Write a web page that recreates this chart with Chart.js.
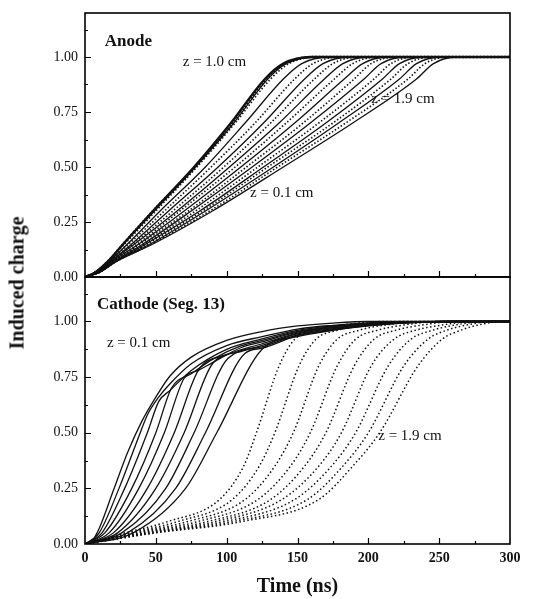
<!DOCTYPE html>
<html>
<head>
<meta charset="utf-8">
<script src="https://cdn.jsdelivr.net/npm/chart.js@4"></script>
<style>
  body { margin: 0; background: #fff; width: 540px; height: 599px; position: relative; overflow: hidden; }
  #anode { position: absolute; left: 0; top: -10px; }
  #cathode { position: absolute; left: 0; top: 261px; }
  #ytitle {
    position: absolute; left: 17px; top: 283px;
    transform: translate(-50%, -50%) rotate(-90deg);
    font: bold 20px 'Liberation Serif', serif; color: #111; white-space: nowrap;
  }
</style>
</head>
<body>
<canvas id="anode" width="540" height="310"></canvas>
<canvas id="cathode" width="540" height="338"></canvas>
<div id="ytitle">Induced charge</div>
<script>
const FONT = "'Liberation Serif', 'Times New Roman', serif";

// anode: time (ns) at which each curve reaches the charge levels below
const anodeLevels = [0, 0.02, 0.07, 0.15, 0.3, 0.5, 0.7, 0.9, 0.97, 1, 1];
const anodeTimes = [
  [0, 7, 16, 27, 48, 77, 103, 127, 140, 160, 300],
  [0, 7, 16, 27, 48, 78, 104, 128, 141, 161, 300],
  [0, 7, 16, 27, 49, 78, 105, 129, 142, 162, 300],
  [0, 7, 16, 28, 50, 79, 106, 131, 144, 164, 300],
  [0, 7, 17, 30, 53, 85, 113, 140, 153, 172, 300],
  [0, 8, 17, 31, 56, 89, 120, 148, 161, 180, 300],
  [0, 8, 18, 33, 59, 94, 126, 155, 168, 187, 300],
  [0, 8, 18, 34, 62, 98, 131, 162, 175, 193, 300],
  [0, 8, 18, 35, 65, 102, 137, 169, 182, 200, 300],
  [0, 8, 19, 37, 67, 106, 142, 176, 189, 207, 300],
  [0, 9, 19, 38, 70, 110, 148, 183, 196, 213, 300],
  [0, 9, 20, 39, 73, 114, 154, 190, 202, 220, 300],
  [0, 9, 20, 41, 75, 118, 159, 197, 209, 226, 300],
  [0, 9, 20, 42, 78, 122, 165, 204, 216, 233, 300],
  [0, 9, 21, 43, 81, 126, 170, 210, 222, 239, 300],
  [0, 9, 21, 44, 83, 129, 175, 216, 228, 245, 300],
  [0, 10, 21, 46, 85, 133, 179, 222, 234, 251, 300],
  [0, 10, 22, 47, 88, 136, 184, 228, 240, 256, 300],
  [0, 10, 22, 48, 90, 140, 189, 234, 246, 262, 300]
];

// cathode, z = 0.1 ... 1.0 cm: [time, charge]
const cathodeSolid = [
  [[0,0],[5,0.015],[10,0.07],[20,0.24],[30,0.41],[40,0.55],[50,0.66],[60,0.755],[75,0.84],[100,0.915],[125,0.955],[150,0.98],[175,0.993],[200,1],[300,1]],
  [[0,0],[10,0.05],[24,0.25],[39,0.5],[44,0.58],[52,0.66],[60,0.72],[75,0.81],[100,0.892],[125,0.932],[150,0.966],[175,0.983],[200,0.994],[230,0.999],[260,1],[300,1]],
  [[0,0],[12,0.05],[28,0.25],[44,0.5],[52,0.64],[60,0.69],[75,0.78],[100,0.875],[125,0.922],[150,0.96],[175,0.98],[200,0.992],[230,0.998],[260,1],[300,1]],
  [[0,0],[14,0.05],[33,0.25],[50,0.5],[61,0.7],[75,0.765],[90,0.83],[110,0.89],[125,0.915],[150,0.956],[175,0.977],[200,0.99],[230,0.997],[260,1],[300,1]],
  [[0,0],[17,0.05],[38,0.25],[56,0.5],[70,0.745],[80,0.78],[90,0.815],[110,0.882],[125,0.908],[150,0.952],[175,0.974],[200,0.988],[230,0.997],[260,1],[300,1]],
  [[0,0],[20,0.05],[44,0.25],[63,0.5],[80,0.78],[100,0.85],[125,0.9],[150,0.948],[175,0.971],[200,0.986],[230,0.996],[260,1],[300,1]],
  [[0,0],[23,0.05],[50,0.25],[70,0.5],[90,0.81],[110,0.865],[125,0.893],[150,0.944],[175,0.968],[200,0.985],[230,0.996],[260,1],[300,1]],
  [[0,0],[26,0.05],[57,0.25],[77,0.5],[101,0.835],[125,0.886],[150,0.94],[175,0.965],[200,0.983],[230,0.995],[260,1],[300,1]],
  [[0,0],[30,0.05],[64,0.25],[85,0.5],[113,0.857],[125,0.88],[150,0.936],[175,0.962],[200,0.981],[230,0.995],[260,1],[300,1]],
  [[0,0],[34,0.05],[71,0.25],[93,0.5],[125,0.875],[150,0.932],[175,0.96],[200,0.98],[230,0.995],[260,1],[300,1]]
];

// cathode, z = 1.1 ... 1.9 cm: time (ns) at which each curve reaches the levels below
const dottedLevels = [0, 0.05, 0.1, 0.2, 0.35, 0.5, 0.8, 0.92, 0.96, 0.985, 1, 1];
const dottedTimes = [
  [0, 28, 58, 95, 112, 121, 137, 148, 163, 183, 210, 300],
  [0, 31, 65, 104, 123, 134, 151, 163, 178, 198, 225, 300],
  [0, 34, 72, 113, 134, 147, 165, 178, 193, 213, 240, 300],
  [0, 37, 79, 122, 145, 159, 178, 191, 206, 226, 250, 300],
  [0, 40, 86, 131, 155, 170, 190, 204, 219, 239, 262, 300],
  [0, 43, 92, 139, 165, 181, 202, 218, 233, 253, 275, 300],
  [0, 45, 98, 148, 174, 191, 214, 230, 245, 262, 282, 300],
  [0, 48, 104, 157, 182, 200, 225, 242, 255, 270, 288, 300],
  [0, 50, 110, 165, 189, 208, 235, 252, 265, 278, 295, 300]
];

const yTickValues = [0, 0.25, 0.5, 0.75, 1];

function line(points, width, dash) {
  return {
    data: points,
    borderColor: '#111',
    borderWidth: width,
    borderDash: dash,
    pointRadius: 0,
    fill: false,
    cubicInterpolationMode: 'monotone'
  };
}

const anodeSets = anodeTimes.map((times, i) => {
  const pts = times.map((t, j) => ({ x: t, y: anodeLevels[j] }));
  const dotted = i % 2 === 1;
  return line(pts, i < 2 ? 2.4 : (dotted ? 1.6 : 1.3), dotted ? [1.5, 2] : []);
});

const cathodeSets = [
  ...cathodeSolid.map(c => line(c.map(([x, y]) => ({ x, y })), 1.3, [])),
  ...dottedTimes.map(times => line(times.map((t, j) => ({ x: t, y: dottedLevels[j] })), 1.5, [1.5, 2.5]))
];

function yScale() {
  return {
    type: 'linear', min: 0, max: 1.2,
    afterBuildTicks: s => { s.ticks = yTickValues.map(v => ({ value: v })); },
    ticks: { callback: v => v.toFixed(2), font: { family: FONT, size: 14 }, color: '#111', padding: 7 },
    grid: { drawOnChartArea: false, drawTicks: false },
    border: { display: false },
    afterFit: s => { s.width = 85; }
  };
}

// frame with inward ticks (majors and minors)
const frame = {
  id: 'frame',
  afterDatasetsDraw(chart) {
    const { ctx, chartArea: a, scales: { x, y } } = chart;
    ctx.save();
    ctx.strokeStyle = '#000';
    ctx.lineWidth = 1.2;
    ctx.beginPath();
    for (let v = 25; v < 300; v += 25) {
      const px = Math.round(x.getPixelForValue(v)) + 0.5;
      ctx.moveTo(px, a.bottom);
      ctx.lineTo(px, a.bottom - (v % 50 === 0 ? 6 : 3));
    }
    for (let k = 1; k < 10; k++) {
      const py = Math.round(y.getPixelForValue(k * 0.125)) + 0.5;
      ctx.moveTo(a.left, py);
      ctx.lineTo(a.left + (k % 2 === 0 ? 6 : 3), py);
    }
    ctx.stroke();
    ctx.lineWidth = 1.6;
    ctx.strokeRect(a.left, a.top, a.right - a.left, a.bottom - a.top);
    ctx.restore();
  }
};

function notes(items) {
  return {
    id: 'notes',
    afterDatasetsDraw(chart) {
      const { ctx, scales: { x, y } } = chart;
      ctx.save();
      ctx.textBaseline = 'middle';
      ctx.textAlign = 'left';
      items.forEach(n => {
        ctx.font = n.font;
        ctx.fillStyle = '#111';
        ctx.fillText(n.text, x.getPixelForValue(n.t), y.getPixelForValue(n.q));
      });
      ctx.restore();
    }
  };
}

const base = {
  responsive: false,
  animation: false,
  plugins: { legend: { display: false }, tooltip: { enabled: false } }
};

new Chart(document.getElementById('anode'), {
  type: 'line',
  data: { datasets: anodeSets },
  options: {
    ...base,
    layout: { padding: { top: 23, right: 30, bottom: 23, left: 0 } },
    scales: {
      x: { type: 'linear', min: 0, max: 300, display: false },
      y: yScale()
    }
  },
  plugins: [frame, notes([
    { text: 'Anode', t: 14, q: 1.068, font: 'bold 17px ' + FONT },
    { text: 'z = 1.0 cm', t: 69, q: 0.977, font: '15px ' + FONT },
    { text: 'z = 1.9 cm', t: 202, q: 0.809, font: '15px ' + FONT },
    { text: 'z = 0.1 cm', t: 116.5, q: 0.382, font: '15px ' + FONT }
  ])]
});

new Chart(document.getElementById('cathode'), {
  type: 'line',
  data: { datasets: cathodeSets },
  options: {
    ...base,
    layout: { padding: { top: 16, right: 30, bottom: 0, left: 0 } },
    scales: {
      x: {
        type: 'linear', min: 0, max: 300,
        ticks: { stepSize: 50, font: { family: FONT, size: 14, weight: 'bold' }, color: '#111', padding: 6, maxRotation: 0 },
        grid: { drawOnChartArea: false, drawTicks: false },
        border: { display: false },
        title: { display: true, text: 'Time (ns)', color: '#111', font: { family: FONT, size: 20, weight: 'bold' }, padding: { top: 8, bottom: 0 } },
        afterFit: s => { s.height = 55; }
      },
      y: yScale()
    }
  },
  plugins: [frame, notes([
    { text: 'Cathode (Seg. 13)', t: 8.5, q: 1.074, font: 'bold 17px ' + FONT },
    { text: 'z = 0.1 cm', t: 15.5, q: 0.903, font: '15px ' + FONT },
    { text: 'z = 1.9 cm', t: 207, q: 0.485, font: '15px ' + FONT }
  ])]
});
</script>
</body>
</html>
